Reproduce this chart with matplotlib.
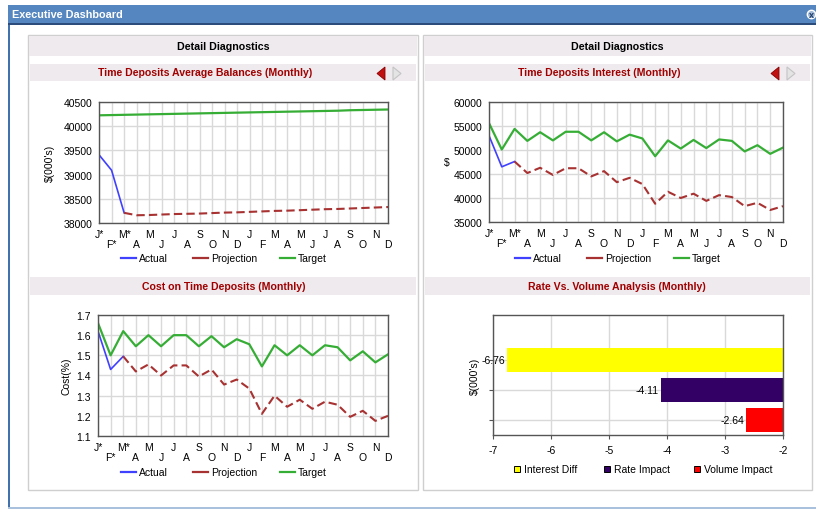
import numpy as np
import matplotlib
matplotlib.use('Agg')
import matplotlib.pyplot as plt
from matplotlib.patches import Rectangle, Polygon, Circle
from matplotlib.lines import Line2D

plt.rcParams['font.family'] = ['Liberation Sans', 'DejaVu Sans']
plt.rcParams['font.size'] = 7.5
plt.rcParams['axes.unicode_minus'] = False

W, H = 816, 510

# ---- data ----
months = ['J*', 'F*', 'M*', 'A', 'M', 'J', 'J', 'A', 'S', 'O', 'N', 'D',
          'J', 'F', 'M', 'A', 'M', 'J', 'J', 'A', 'S', 'O', 'N', 'D']

bal_actual = [39410, 39090, 38210]
bal_proj = [38210, 38160, 38165, 38175, 38185, 38190, 38195, 38205, 38215, 38220, 38230,
            38240, 38250, 38255, 38265, 38275, 38285, 38290, 38300, 38310, 38320, 38330]
bal_target = [40225, 40230, 40235, 40240, 40245, 40250, 40255, 40260, 40265, 40270, 40275, 40280,
              40285, 40290, 40295, 40300, 40305, 40310, 40315, 40320, 40330, 40335, 40340, 40345]

int_actual = [53000, 46500, 47600]
int_proj = [47600, 45200, 46300, 44800, 46200, 46200, 44500, 45600, 43300, 44200, 42900,
            38800, 41300, 40000, 40900, 39400, 40600, 40200, 38300, 39000, 37500, 38300]
int_target = [55600, 50100, 54400, 51900, 53700, 52000, 53800, 53800, 52000, 53700, 51800, 53200,
              52400, 48700, 52000, 50300, 52100, 50400, 52200, 51900, 49700, 51000, 49200, 50500]

cost_actual = [1.62, 1.43, 1.495]
cost_proj = [1.495, 1.42, 1.455, 1.40, 1.45, 1.45, 1.395, 1.43, 1.355, 1.38, 1.335,
             1.21, 1.30, 1.245, 1.28, 1.235, 1.27, 1.255, 1.195, 1.225, 1.175, 1.20]
cost_target = [1.66, 1.50, 1.62, 1.545, 1.60, 1.545, 1.60, 1.60, 1.545, 1.595, 1.54, 1.58,
               1.555, 1.445, 1.55, 1.50, 1.55, 1.50, 1.55, 1.54, 1.475, 1.52, 1.465, 1.505]

rv_labels = ['Interest Diff', 'Rate Impact', 'Volume Impact']
rv_values = [-6.76, -4.11, -2.64]
rv_colors = ['#FFFF00', '#330066', '#FF0000']

series_names = ['Actual', 'Projection', 'Target']
c_actual = '#4040FF'
c_proj = '#A83232'
c_target = '#36AE36'

x_idx = np.arange(len(months))

fig = plt.figure(figsize=(W / 100, H / 100), dpi=100)
fig.patch.set_facecolor('white')

# background layer in pixel coordinates (origin top-left)
bg = fig.add_axes([0, 0, 1, 1])
bg.set_xlim(0, W)
bg.set_ylim(H, 0)
bg.axis('off')


def box(x0, y0, x1, y1, **kw):
    bg.add_patch(Rectangle((x0, y0), x1 - x0, y1 - y0, **kw))


def px_axes(x0, y0, x1, y1):
    return fig.add_axes([x0 / W, 1 - y1 / H, (x1 - x0) / W, (y1 - y0) / H])


# window frame
box(8, 6, 816, 24, facecolor='#5586BF', edgecolor='none')
box(8, 23.5, 816, 26, facecolor='#2C4C7C', edgecolor='none')
box(7.5, 26, 9.5, 508, facecolor='#4272AE', edgecolor='none')
box(8, 507.5, 816, 510, facecolor='#A9C1DD', edgecolor='none')
bg.text(12, 15.5, 'Executive Dashboard', color='white', fontweight='bold',
        fontsize=7.8, ha='left', va='center')
bg.add_patch(Circle((811.5, 15.5), 4.2, facecolor='#9DB6D6', edgecolor='white', lw=1))
bg.text(811.5, 15.3, 'x', color='#1E3A66', fontsize=6.5, fontweight='bold', ha='center', va='center')

# panels
for px0, px1 in [(28, 418), (423, 812)]:
    box(px0, 36, px1, 491, facecolor='white', edgecolor='#CFCFCF', lw=1)
    box(px0 + 1, 37, px1 - 1, 57, facecolor='#EEEAEE', edgecolor='none')
    bg.text((px0 + px1) / 2, 47, 'Detail Diagnostics', fontweight='bold', fontsize=7.7,
            ha='center', va='center', color='black')
    box(px0 + 2, 65, px1 - 2, 82, facecolor='#EEEAEE', edgecolor='none')
    box(px0 + 2, 278, px1 - 2, 296, facecolor='#EEEAEE', edgecolor='none')
    # nav arrows
    ax0 = px1 - 41
    bg.add_patch(Polygon([(ax0, 74.5), (ax0 + 8, 68), (ax0 + 8, 81)], closed=True,
                         facecolor='#C01010', edgecolor='#8A0000', lw=0.6))
    bg.add_patch(Polygon([(ax0 + 16, 68), (ax0 + 16, 81), (ax0 + 24, 74.5)], closed=True,
                         facecolor='#E4E4E4', edgecolor='#C4C4C4', lw=0.8))

sub_color = '#A00000'
bg.text(205, 73.5, 'Time Deposits Average Balances (Monthly)', color=sub_color,
        fontweight='bold', fontsize=7.6, ha='center', va='center')
bg.text(599, 73.5, 'Time Deposits Interest (Monthly)', color=sub_color,
        fontweight='bold', fontsize=7.6, ha='center', va='center')
bg.text(224, 287, 'Cost on Time Deposits (Monthly)', color=sub_color,
        fontweight='bold', fontsize=7.6, ha='center', va='center')
bg.text(617, 287, 'Rate Vs. Volume Analysis (Monthly)', color=sub_color,
        fontweight='bold', fontsize=7.6, ha='center', va='center')


def style_frame(ax):
    for s in ax.spines.values():
        s.set_color('#555555')
        s.set_linewidth(1)


def line_chart(ax, actual, proj, target, ylim, yticks, fmt):
    n = len(actual)
    ax.plot(x_idx[:n], actual, color=c_actual, lw=1.2)
    ax.plot(x_idx[n - 1:], proj, color=c_proj, lw=1.5, dashes=(4, 2))
    ax.plot(x_idx, target, color=c_target, lw=1.6)
    ax.set_xlim(0, len(months) - 1)
    ax.set_ylim(ylim)
    ax.set_yticks(yticks)
    ax.set_yticklabels([fmt.format(v) for v in yticks])
    ax.set_xticks(x_idx[::2])
    ax.set_xticklabels(months[::2])
    ax.set_xticks(x_idx[1::2], minor=True)
    ax.set_xticklabels(months[1::2], minor=True)
    ax.tick_params(axis='x', which='major', length=0, pad=4.0)
    ax.tick_params(axis='x', which='minor', length=0, pad=11.3)
    ax.tick_params(axis='y', length=0, pad=5)
    ax.grid(True, which='both', color='#D9D9D9', lw=1)
    ax.set_axisbelow(True)
    style_frame(ax)


def line_legend(x0, y):
    cols = [c_actual, c_proj, c_target]
    offs = [0, 72, 159]
    for name, col, o in zip(series_names, cols, offs):
        bg.add_line(Line2D([x0 + o, x0 + o + 15], [y, y], color=col, lw=1.6))
        bg.text(x0 + o + 18, y, name, ha='left', va='center', fontsize=7.5)


ax1 = px_axes(99, 103, 388, 224)
line_chart(ax1, bal_actual, bal_proj, bal_target, (38000, 40500),
           list(range(38000, 40501, 500)), '{:d}')
ax1.set_ylabel("$(000's)")
ax1.yaxis.label.set_va('center')
ax1.yaxis.set_label_coords((50 - 99) / 289, 0.5)
line_legend(121, 259)

ax2 = px_axes(489, 103, 783, 223)
line_chart(ax2, int_actual, int_proj, int_target, (35000, 60000),
           list(range(35000, 60001, 5000)), '{:d}')
ax2.set_ylabel('$', rotation=0)
ax2.yaxis.label.set_va('center')
ax2.yaxis.set_label_coords((447 - 489) / 294, 0.5)
line_legend(515, 259)

ax3 = px_axes(98, 316, 388, 437)
cost_ticks = [1.1, 1.2, 1.3, 1.4, 1.5, 1.6, 1.7]
line_chart(ax3, cost_actual, cost_proj, cost_target, (1.1, 1.7), cost_ticks, '{:.1f}')
ax3.set_ylabel('Cost(%)')
ax3.yaxis.label.set_va('center')
ax3.yaxis.set_label_coords((67 - 98) / 290, 0.5)
line_legend(121, 473)

# rate vs volume bars
ax4 = px_axes(493, 316, 783, 436)
pos = [2.5, 1.5, 0.5]
ax4.barh(pos, rv_values, height=0.78, color=rv_colors, zorder=2)
for p, v in zip(pos, rv_values):
    ax4.annotate('{:.2f}'.format(v), (v, p), xytext=(-1.5, 0), textcoords='offset points',
                 ha='right', va='center', fontsize=7.5, zorder=3)
ax4.set_xlim(-7, -2)
ax4.set_ylim(0, 4)
ax4.set_xticks([-7, -6, -5, -4, -3, -2])
ax4.set_yticks(pos)
ax4.set_yticklabels([])
ax4.tick_params(axis='x', length=3, pad=4, color='#555555')
ax4.tick_params(axis='y', length=3, color='#555555')
ax4.grid(True, color='#D9D9D9', lw=1)
ax4.set_axisbelow(True)
style_frame(ax4)
ax4.set_ylabel("$(000's)")
ax4.yaxis.label.set_va('center')
ax4.yaxis.set_label_coords((475 - 493) / 290, 0.5)

for lab, col, xs in zip(rv_labels, rv_colors, [514, 604, 694]):
    bg.add_patch(Rectangle((xs, 467), 6, 6, facecolor=col, edgecolor='black', lw=0.7))
    bg.text(xs + 10, 470, lab, ha='left', va='center', fontsize=7.5)

fig.savefig('out.png', dpi=100)
